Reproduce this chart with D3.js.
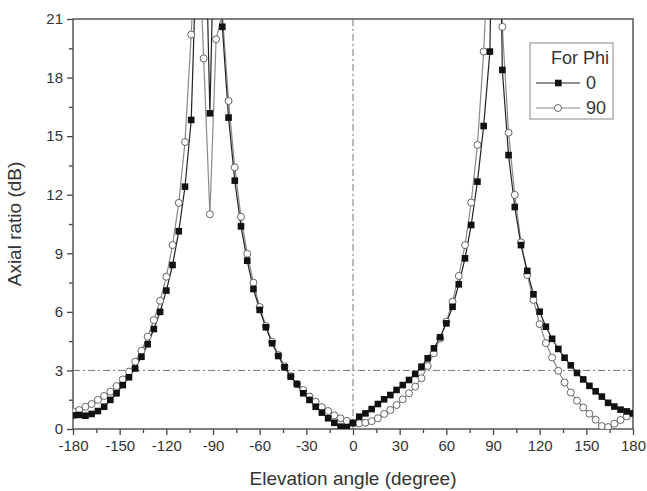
<!DOCTYPE html>
<html>
<head>
<meta charset="utf-8">
<script src="https://cdn.jsdelivr.net/npm/d3@7"></script>
<style>
body { margin: 0; background: #fff; }
text { font-family: "Liberation Sans", Arial, sans-serif; fill: #333; }
</style>
</head>
<body>
<div id="chart"></div>
<script>
// elevation angles, one marker every 4 degrees
var angles = [-180,-176,-172,-168,-164,-160,-156,-152,-148,-144,-140,-136,-132,-128,-124,-120,-116,-112,-108,-104,
  -100,-96,-92,-88,-84,-80,-76,-72,-68,-64,-60,-56,-52,-48,-44,-40,-36,-32,-28,-24,-20,-16,-12,-8,-4,
  0,4,8,12,16,20,24,28,32,36,40,44,48,52,56,60,64,68,72,76,80,84,88,92,96,100,104,108,112,116,120,
  124,128,132,136,140,144,148,152,156,160,164,168,172,176,180];

// axial ratio (dB) for phi = 0
var phi0 = [0.70,0.72,0.68,0.77,0.92,1.14,1.49,1.83,2.25,2.65,3.10,3.70,4.34,5.12,6.00,7.09,8.40,10.13,12.41,15.83,
  26,30,16.17,30,20.60,15.95,12.72,10.38,8.62,7.17,6.10,5.21,4.39,3.74,3.16,2.68,2.30,1.83,1.49,1.14,0.84,0.55,0.32,0.12,0.09,
  0.30,0.63,0.80,1.02,1.28,1.52,1.74,2.00,2.25,2.51,2.82,3.19,3.62,4.13,4.70,5.41,6.26,7.41,8.74,10.45,12.67,15.52,19.33,40,18.39,14.03,11.37,9.42,8.10,6.90,6.01,
  5.24,4.62,4.10,3.65,3.26,2.87,2.54,2.21,1.93,1.66,1.34,1.15,0.99,0.90,0.80];

// axial ratio (dB) for phi = 90
var phi90 = [0.90,0.97,1.14,1.28,1.49,1.69,1.91,2.20,2.54,2.94,3.45,4.01,4.73,5.58,6.57,7.80,9.42,11.58,14.70,20.20,
  27,18.98,11.00,19.96,21.30,16.80,13.40,10.87,8.98,7.50,6.25,5.28,4.47,3.79,3.21,2.70,2.30,2.00,1.66,1.40,1.12,0.92,0.70,0.55,0.42,
  0.32,0.29,0.32,0.40,0.55,0.77,0.97,1.23,1.52,1.83,2.17,2.60,3.23,3.88,4.64,5.50,6.52,7.84,9.42,11.60,14.55,19.33,26,40,20.60,15.18,11.99,9.56,7.89,6.61,5.37,
  4.40,3.66,2.98,2.38,1.87,1.45,1.10,0.78,0.48,0.15,0.10,0.27,0.46,0.65,0.80];

var xTicks = [-180,-150,-120,-90,-60,-30,0,30,60,90,120,150,180];
var yTicks = [0,3,6,9,12,15,18,21];
var legendNames = ["0", "90"];

var margin = {top: 19, right: 14, bottom: 62, left: 73};
var W = 647, H = 491;
var width = W - margin.left - margin.right;
var height = H - margin.top - margin.bottom;

var x = d3.scaleLinear().domain([-180, 180]).range([0, width]);
var y = d3.scaleLinear().domain([0, 21]).range([height, 0]);

var svg = d3.select("#chart").append("svg")
    .attr("width", W)
    .attr("height", H);
var g = svg.append("g")
    .attr("transform", "translate(" + margin.left + "," + margin.top + ")");

g.append("clipPath").attr("id", "clip")
  .append("rect").attr("width", width).attr("height", height);

// reference lines at 3 dB and 0 degree
g.append("line")
  .attr("x1", 0).attr("x2", width)
  .attr("y1", y(3)).attr("y2", y(3))
  .attr("stroke", "#777").attr("stroke-width", 1)
  .attr("stroke-dasharray", "7,3,2,3");
g.append("line")
  .attr("x1", x(0)).attr("x2", x(0))
  .attr("y1", 0).attr("y2", height)
  .attr("stroke", "#777").attr("stroke-width", 1)
  .attr("stroke-dasharray", "7,3,2,3");

// axes (plain hyphen for negatives, like the original)
var fmt = function(d) { return String(d); };
var xAxis = d3.axisBottom(x).tickValues(xTicks).tickSize(6).tickPadding(5).tickFormat(fmt);
var xMinor = d3.axisBottom(x).tickValues(d3.range(-165, 180, 30)).tickSize(4).tickFormat("");
var yAxis = d3.axisLeft(y).tickValues(yTicks).tickSize(6).tickPadding(4).tickFormat(fmt);
var yMinor = d3.axisLeft(y).tickValues(d3.range(1.5, 21, 3)).tickSize(4).tickFormat("");

function styleAxis(sel) {
  sel.select(".domain").remove();
  sel.selectAll("line").attr("stroke", "#444").attr("stroke-width", 1.3);
  sel.selectAll("text").style("font-size", "15px").attr("fill", "#333");
}

g.append("g").attr("transform", "translate(0," + height + ")").call(xAxis).call(styleAxis);
g.append("g").attr("transform", "translate(0," + height + ")").call(xMinor).call(styleAxis);
g.append("g").call(yAxis).call(styleAxis);
g.append("g").call(yMinor).call(styleAxis);

// frame
g.append("rect")
  .attr("width", width).attr("height", height)
  .attr("fill", "none").attr("stroke", "#555").attr("stroke-width", 1.5);

var plot = g.append("g").attr("clip-path", "url(#clip)");

var line0 = d3.line()
  .x(function(d, i) { return x(angles[i]); })
  .y(function(d) { return y(d); });

// phi = 90 (grey line, open circles)
plot.append("path")
  .datum(phi90)
  .attr("fill", "none")
  .attr("stroke", "#8a8a8a")
  .attr("stroke-width", 1.2)
  .attr("d", line0);

// phi = 0 (black line, filled squares)
plot.append("path")
  .datum(phi0)
  .attr("fill", "none")
  .attr("stroke", "#222")
  .attr("stroke-width", 1.2)
  .attr("d", line0);

plot.selectAll("circle.p90")
  .data(phi90)
  .enter()
  .append("circle")
  .attr("class", "p90")
  .attr("cx", function(d, i) { return x(angles[i]); })
  .attr("cy", function(d) { return y(d); })
  .attr("r", 3.5)
  .attr("fill", "#fff")
  .attr("stroke", "#555")
  .attr("stroke-width", 0.9);

plot.selectAll("rect.p0")
  .data(phi0)
  .enter()
  .append("rect")
  .attr("class", "p0")
  .attr("x", function(d, i) { return x(angles[i]) - 3.3; })
  .attr("y", function(d) { return y(d) - 3.3; })
  .attr("width", 6.6)
  .attr("height", 6.6)
  .attr("fill", "#111");

// axis titles
svg.append("text")
  .attr("x", margin.left + width / 2)
  .attr("y", 485)
  .attr("text-anchor", "middle")
  .style("font-size", "19px")
  .text("Elevation angle (degree)");

svg.append("text")
  .attr("transform", "translate(21," + (margin.top + height / 2) + ") rotate(-90)")
  .attr("text-anchor", "middle")
  .style("font-size", "19px")
  .text("Axial ratio (dB)");

// legend
var lg = svg.append("g").attr("transform", "translate(530,43)");
lg.append("rect")
  .attr("width", 83).attr("height", 76)
  .attr("fill", "#fff").attr("stroke", "#888").attr("stroke-width", 1);
lg.append("text")
  .attr("x", 79).attr("y", 21)
  .attr("text-anchor", "end")
  .style("font-size", "18px")
  .text("For Phi");

var rows = lg.selectAll("g.row")
  .data(legendNames)
  .enter()
  .append("g")
  .attr("class", "row")
  .attr("transform", function(d, i) { return "translate(0," + (40 + i * 25) + ")"; });
rows.append("line")
  .attr("x1", 6).attr("x2", 50)
  .attr("stroke", function(d, i) { return i == 0 ? "#222" : "#8a8a8a"; })
  .attr("stroke-width", 1.2);
rows.filter(function(d, i) { return i == 0; })
  .append("rect")
  .attr("x", 25).attr("y", -3.3).attr("width", 6.6).attr("height", 6.6)
  .attr("fill", "#111");
rows.filter(function(d, i) { return i == 1; })
  .append("circle")
  .attr("cx", 28).attr("r", 3.5)
  .attr("fill", "#fff").attr("stroke", "#555").attr("stroke-width", 0.9);
rows.append("text")
  .attr("x", 56).attr("y", 6)
  .style("font-size", "18px")
  .text(function(d) { return d; });
</script>
</body>
</html>
